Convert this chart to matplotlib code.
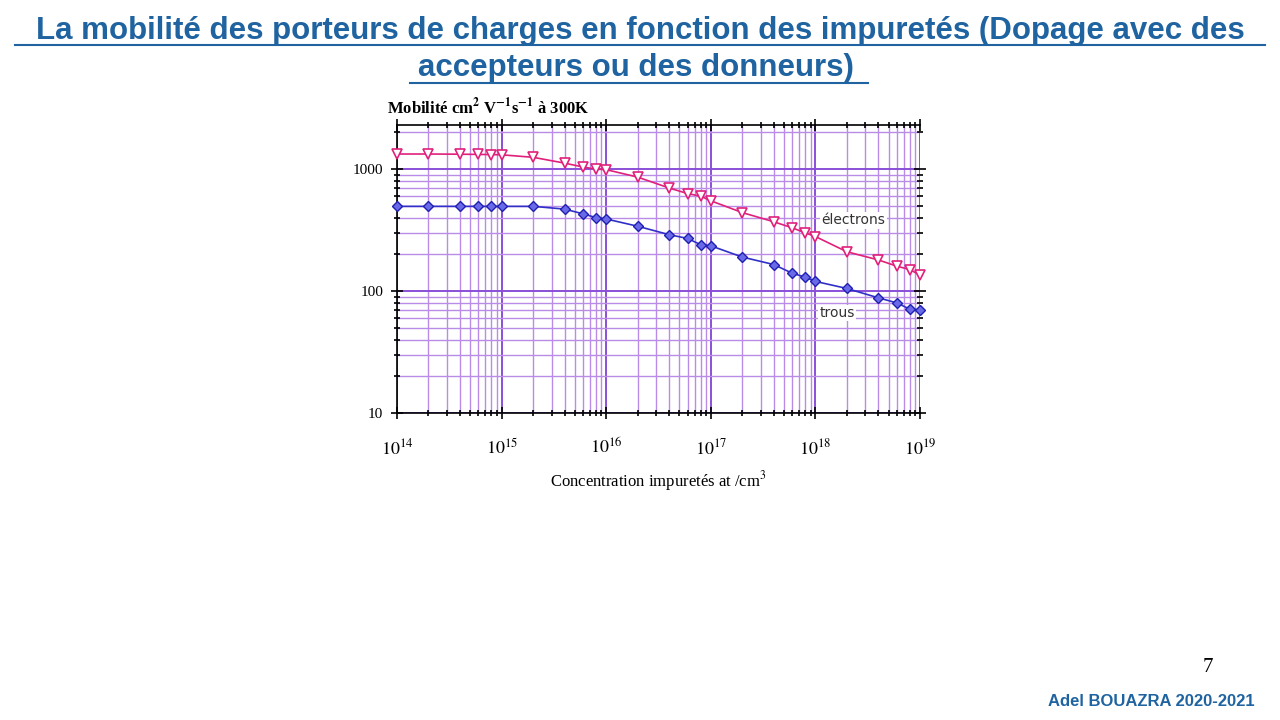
import matplotlib
matplotlib.use("Agg")
import matplotlib.pyplot as plt
from matplotlib.ticker import FixedLocator

plt.rcParams["mathtext.fontset"] = "stix"

conc = [1e14,2e14,4e14,6e14,8e14,1e15,2e15,4e15,6e15,8e15,1e16,2e16,4e16,6e16,8e16,
        1e17,2e17,4e17,6e17,8e17,1e18,2e18,4e18,6e18,8e18,1e19]
electrons = [1330,1330,1325,1320,1315,1310,1250,1120,1040,1000,990,860,700,630,600,
             550,440,370,330,300,280,210,180,160,150,135]
trous = [495,495,495,495,495,495,495,470,430,400,390,340,290,270,240,
         235,190,165,140,130,120,105,88,80,71,70]
xticks = [1e14,1e15,1e16,1e17,1e18,1e19]
xlabels = ["$10^{14}$","$10^{15}$","$10^{16}$","$10^{17}$","$10^{18}$","$10^{19}$"]
yticks = [10,100,1000]
ylabels = ["10","100","1000"]

fig = plt.figure(figsize=(12.8,7.2), dpi=100)
blue = "#1f63a0"
fig.text(0.5, 0.957, "La mobilité des porteurs de charges en fonction des impuretés (Dopage avec des",
         ha="center", va="center", fontsize=22.5, fontweight="bold", color=blue, family="Liberation Sans")
fig.text(0.5, 0.905, "accepteurs ou des donneurs) ",
         ha="center", va="center", fontsize=22.5, fontweight="bold", color=blue, family="Liberation Sans")
for y0,x0,x1 in [(0.937,0.012,0.988),(0.885,0.32,0.678)]:
    fig.add_artist(plt.Line2D([x0,x1],[y0,y0],color=blue,lw=1.5))

ax = fig.add_axes([397/1280, 1-413/720, 523/1280, 288/720])
ax.set_xscale("log"); ax.set_yscale("log")
ax.set_xlim(1e14,1e19); ax.set_ylim(10,2300)
minor_x = [m*10**e for e in range(14,19) for m in range(2,10)]
minor_y = [m*10**e for e in range(1,4) for m in range(2,10) if m*10**e < 2300]
for v in minor_x:
    ax.axvline(v, color="#b98ce8", lw=1.0, zorder=0)
for v in xticks:
    ax.axvline(v, color="#8a4fd8", lw=1.4, zorder=0)
for v in minor_y:
    ax.axhline(v, color="#b98ce8", lw=1.0, zorder=0)
for v in yticks:
    ax.axhline(v, color="#8a4fd8", lw=1.4, zorder=0)
ax.plot(conc, electrons, color="#e0207a", lw=1.2, marker="v", ms=7, mfc="white", mec="#e0207a",
        mew=1.2, zorder=3, clip_on=False)
ax.plot(conc, trous, color="#3030c8", lw=1.2, marker="D", ms=5, mfc="#6a6ae8", mec="#2020b0",
        mew=1, zorder=3, clip_on=False)
ax.xaxis.set_major_locator(FixedLocator(xticks))
ax.set_xticklabels(xlabels, family="Liberation Serif", fontsize=13)
ax.yaxis.set_major_locator(FixedLocator(yticks))
ax.set_yticklabels(ylabels, family="Liberation Serif", fontsize=11)
ax.xaxis.set_minor_locator(FixedLocator(minor_x))
ax.yaxis.set_minor_locator(FixedLocator(minor_y))
ax.tick_params(which="both", direction="inout", top=True, right=True, length=8, width=1.2)
ax.tick_params(which="minor", length=5)
ax.tick_params(axis="x", pad=14)
ax.tick_params(axis="y", pad=6)
for s in ax.spines.values():
    s.set_linewidth(1.2)
ax.spines["right"].set_visible(False)
ax.text(1.15e18, 380, "électrons", fontsize=10, color="#333333", family="DejaVu Sans", va="center",
        bbox=dict(facecolor="white", edgecolor="none", pad=1))
ax.text(1.1e18, 66, "trous", fontsize=10, color="#333333", family="DejaVu Sans", va="center",
        bbox=dict(facecolor="white", edgecolor="none", pad=1))
ax.set_xlabel("Concentration impuretés at /cm$^3$", family="Liberation Serif", fontsize=12, labelpad=8)
fig.text(387/1280, 1-107/720, "Mobilité cm$^\\mathbf{2}$ V$^\\mathbf{-1}$s$^\\mathbf{-1}$ à 300K", fontsize=12,
         fontweight="bold", family="Liberation Serif", va="center")
fig.text(1208/1280, 1-668/720, "7", fontsize=15, family="Liberation Serif", ha="center", va="center")
fig.text(1255/1280, 1-702/720, "Adel BOUAZRA 2020-2021", fontsize=12, fontweight="bold",
         color=blue, family="Liberation Sans", ha="right", va="center")
fig.savefig("out.png", dpi=100)
